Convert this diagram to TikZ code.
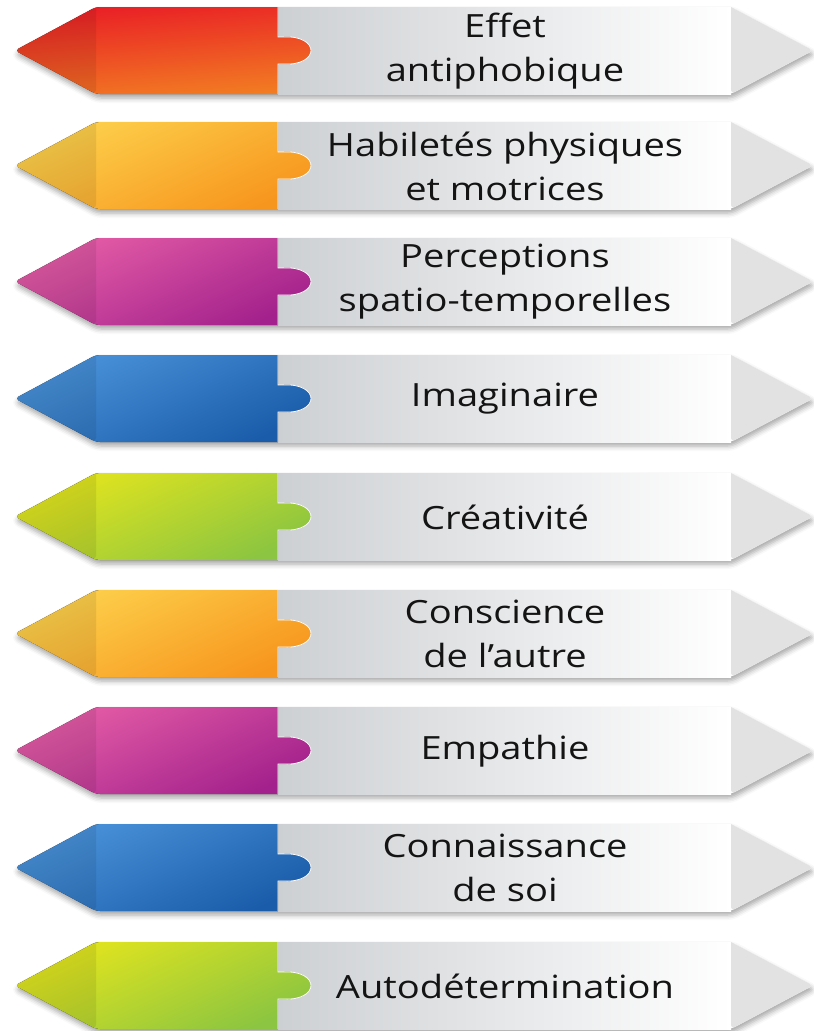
\documentclass[tikz,border=0pt]{standalone}
\usepackage{fontspec}
\setmainfont[FakeStretch=1.19]{Open Sans}
\usetikzlibrary{shadows.blur}
\definecolor{redA}{HTML}{E91D26}\definecolor{redB}{HTML}{F27D22}
\definecolor{yelA}{HTML}{FDD14C}\definecolor{yelB}{HTML}{F7961E}
\definecolor{magA}{HTML}{E55DA6}\definecolor{magB}{HTML}{A3218C}
\definecolor{bluA}{HTML}{4A93DA}\definecolor{bluB}{HTML}{1A5CA9}
\definecolor{grnA}{HTML}{E4E51D}\definecolor{grnB}{HTML}{8BC541}
\definecolor{grayL}{HTML}{CDD0D3}
\definecolor{tipG}{HTML}{E2E2E3}
\definecolor{txt}{HTML}{141414}
\tikzset{
  body/.style={fill=white, rounded corners=4pt,
    blur shadow={shadow xshift=1pt, shadow yshift=-4pt, shadow blur radius=5pt, shadow opacity=35}},
  label/.style={align=center, text=txt, font=\fontsize{32}{44}\selectfont, inner sep=0pt},
}
\newcommand\ribbon[6]{%
 \begin{scope}[shift={(0,#1)}]
  \path[body] (15,43.5) -- (96,0) -- (731,0) -- (813,43.5) -- (731,87) -- (96,87) -- cycle;
  \fill[left color=grayL, right color=white] (278,0) rectangle (731,87);
  \fill[tipG] (731,0) [rounded corners=4pt] -- (813,43.5) -- (731,87) [sharp corners] -- cycle;
  \fill[top color=#2, bottom color=#3, shading angle=#4]
     (278,0) -- (278,30) -- (284,30) .. controls (301,29) and (311,36) .. (311,43.5)
     .. controls (311,51) and (301,58) .. (284,57) -- (278,57) -- (278,87)
     [rounded corners=4pt] -- (96,87) -- (15,43.5) -- (96,0) [sharp corners] -- cycle;
  \fill[black, opacity=0.08] (96,0) [rounded corners=4pt] -- (15,43.5) -- (96,87) [sharp corners] -- cycle;
  \draw[white, line width=0.8pt] (278,0) -- (278,30) -- (284,30) .. controls (301,29) and (311,36) .. (311,43.5)
     .. controls (311,51) and (301,58) .. (284,57) -- (278,57) -- (278,87);
  \node[label] (#5) at (505,44) {#6};
 \end{scope}}
\begin{document}
\begin{tikzpicture}[x=1pt,y=-1pt]
\useasboundingbox (0,0) rectangle (814,1031);
\ribbon{7}{redA}{redB}{5}{t1}{Effet\\antiphobique}
\ribbon{122}{yelA}{yelB}{25}{t2}{Habiletés physiques\\et motrices}
\ribbon{238}{magA}{magB}{25}{t3}{Perceptions\\spatio-temporelles}
\ribbon{355}{bluA}{bluB}{25}{t4}{Imaginaire}
\ribbon{473}{grnA}{grnB}{25}{t5}{Créativité}
\ribbon{590}{yelA}{yelB}{25}{t6}{Conscience\\de l’autre}
\ribbon{707}{magA}{magB}{25}{t7}{Empathie}
\ribbon{824}{bluA}{bluB}{25}{t8}{Connaissance\\de soi}
\ribbon{942}{grnA}{grnB}{25}{t9}{Autodétermination}
\end{tikzpicture}
\end{document}
